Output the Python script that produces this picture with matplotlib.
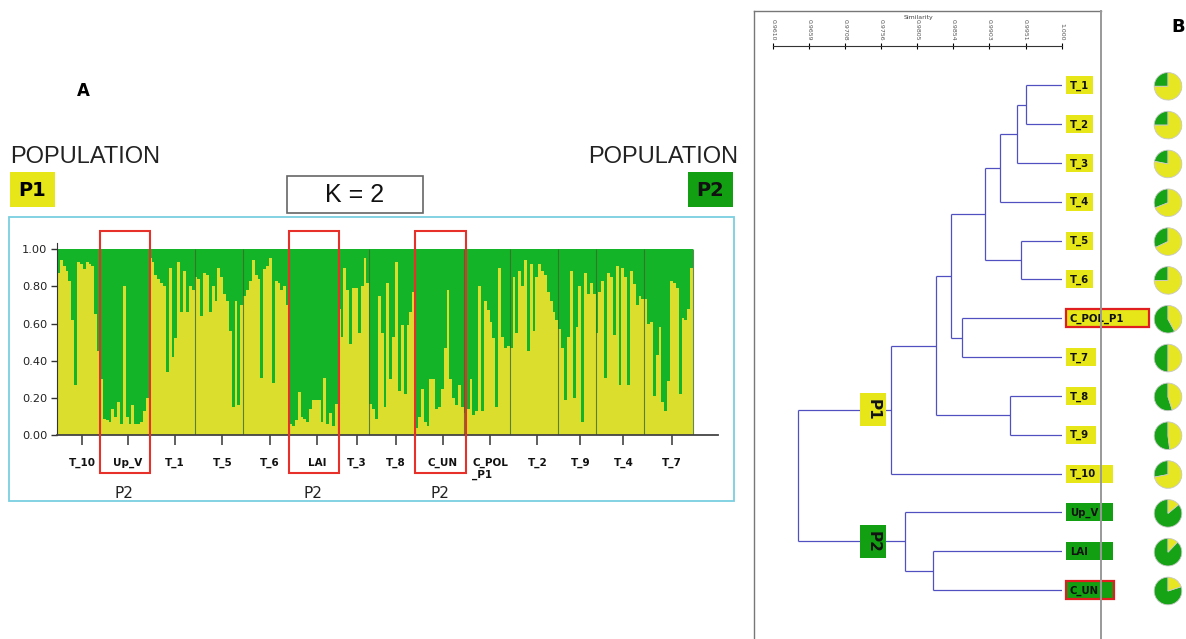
import matplotlib
matplotlib.use('Agg')
import matplotlib.pyplot as plt
from matplotlib.patches import Rectangle
import numpy as np

# ---------------- DATA ----------------
# STRUCTURE (K=2) membership in cluster P1 (yellow) per individual, per population
groups = ['T_10', 'Up_V', 'T_1', 'T_5', 'T_6', 'LAI', 'T_3', 'T_8', 'C_UN',
          'C_POL\n_P1', 'T_2', 'T_9', 'T_4', 'T_7']
q_T10 = [0.87, 0.94, 0.91, 0.88, 0.83, 0.62, 0.27, 0.93, 0.92, 0.89, 0.93, 0.92, 0.91, 0.65, 0.45]
q_UpV = [0.30, 0.09, 0.08, 0.07, 0.14, 0.10, 0.18, 0.06, 0.80, 0.10, 0.06, 0.16, 0.06, 0.06, 0.07, 0.13, 0.20]
q_T1 = [0.95, 0.93, 0.86, 0.84, 0.82, 0.80, 0.34, 0.90, 0.42, 0.52, 0.93, 0.66, 0.88, 0.66, 0.80, 0.78]
q_T5 = [0.85, 0.84, 0.64, 0.87, 0.86, 0.66, 0.80, 0.72, 0.90, 0.85, 0.76, 0.72, 0.56, 0.15, 0.72, 0.16, 0.70]
q_T6 = [0.75, 0.78, 0.83, 0.94, 0.86, 0.84, 0.31, 0.89, 0.91, 0.95, 0.28, 0.83, 0.82, 0.78, 0.80, 0.70]
q_LAI = [0.06, 0.05, 0.08, 0.23, 0.10, 0.09, 0.07, 0.14, 0.19, 0.19, 0.19, 0.07, 0.31, 0.06, 0.12, 0.05, 0.17]
q_T3 = [0.68, 0.53, 0.90, 0.78, 0.49, 0.79, 0.79, 0.55, 0.80, 0.95, 0.82]
q_T8 = [0.17, 0.14, 0.09, 0.75, 0.55, 0.15, 0.82, 0.30, 0.53, 0.93, 0.24, 0.59, 0.22, 0.59, 0.66, 0.77]
q_CUN = [0.04, 0.10, 0.25, 0.07, 0.05, 0.30, 0.30, 0.14, 0.15, 0.25, 0.47, 0.78, 0.30, 0.20, 0.16, 0.27, 0.15]
q_CPOL = [0.12, 0.14, 0.30, 0.11, 0.13, 0.80, 0.13, 0.72, 0.67, 0.61, 0.52, 0.15, 0.90, 0.53, 0.47, 0.48]
q_T2 = [0.47, 0.85, 0.55, 0.88, 0.80, 0.94, 0.45, 0.92, 0.56, 0.85, 0.92, 0.88, 0.86, 0.77, 0.72, 0.66, 0.62]
q_T9 = [0.57, 0.47, 0.19, 0.53, 0.88, 0.20, 0.58, 0.80, 0.07, 0.87, 0.76, 0.82, 0.76]
q_T4 = [0.55, 0.77, 0.83, 0.31, 0.87, 0.85, 0.54, 0.91, 0.27, 0.90, 0.85, 0.27, 0.88, 0.81, 0.70, 0.75, 0.73]
q_T7 = [0.73, 0.60, 0.61, 0.21, 0.43, 0.58, 0.18, 0.13, 0.29, 0.83, 0.82, 0.79, 0.22, 0.63, 0.62, 0.68, 0.90]
group_values = [q_T10, q_UpV, q_T1, q_T5, q_T6, q_LAI, q_T3, q_T8, q_CUN,
                q_CPOL, q_T2, q_T9, q_T4, q_T7]
p2_groups = ['Up_V', 'LAI', 'C_UN']
ytick_vals = [0.0, 0.2, 0.4, 0.6, 0.8, 1.0]

# Dendrogram (UPGMA on similarity)
leaves = ['T_1', 'T_2', 'T_3', 'T_4', 'T_5', 'T_6', 'C_POL_P1', 'T_7',
          'T_8', 'T_9', 'T_10', 'Up_V', 'LAI', 'C_UN']
# merges: (child a, child b, similarity); new clusters numbered from 14
merges = [(0, 1, 0.99514), (14, 2, 0.99397), (15, 3, 0.99163), (4, 5, 0.99447),
          (16, 17, 0.98965), (6, 7, 0.98659), (18, 19, 0.98510), (8, 9, 0.99306),
          (20, 21, 0.98297), (22, 10, 0.97692), (12, 13, 0.98263), (11, 24, 0.97889),
          (23, 25, 0.96437)]
sim_ticks = [0.9610, 0.96588, 0.97075, 0.97563, 0.9805, 0.98538, 0.99025, 0.99513, 1.0]
sim_labels = ['0.9610', '0.9659', '0.9708', '0.9756', '0.9805', '0.9854', '0.9903', '0.9951', '1.000']
# share of cluster P2 (green) in each population, for the pies
pie_p2 = [0.25, 0.25, 0.22, 0.31, 0.32, 0.25, 0.58, 0.50, 0.55, 0.52, 0.28, 0.86, 0.88, 0.80]
leaf_group = ['P1'] * 11 + ['P2'] * 3
highlight = ['C_POL_P1', 'C_UN']

# ---------------- STYLE ----------------
YEL = '#dcde2e'
GRN = '#14b428'
BOXY = '#e6e619'
BOXG = '#12a012'
LINE = '#5050c0'
W, H = 1186, 639

fig = plt.figure(figsize=(W / 100, H / 100), dpi=100)
ov = fig.add_axes([0, 0, 1, 1], zorder=0)
ov.set_xlim(0, W)
ov.set_ylim(H, 0)
ov.axis('off')

# ---------------- PANEL A ----------------
counts = [len(v) for v in group_values]
N = sum(counts)
starts = np.concatenate([[0], np.cumsum(counts)[:-1]])
bx = fig.add_axes([57 / W, (H - 435.3) / H, (718 - 57) / W, 186.3 * 1.03 / H], zorder=2)
bx.patch.set_alpha(0)
bx.bar(starts, np.ones(len(counts)), width=counts, align='edge', color=GRN, linewidth=0)
for s, vals in zip(starts, group_values):
    xs = s + np.arange(len(vals))
    bx.bar(xs, vals, width=1.0, align='edge', color=YEL, linewidth=0)
bx.vlines(list(starts[1:]) + [N], 0, 1, color='#3a6a2a', lw=0.8, alpha=0.8)
bx.set_xlim(0, N * 661 / 636)
bx.set_ylim(0, 1.03)
for sp in ['top', 'right']:
    bx.spines[sp].set_visible(False)
bx.spines['left'].set_color('#333')
bx.spines['bottom'].set_color('#444')
bx.spines['bottom'].set_linewidth(1.3)
bx.set_yticks(ytick_vals)
bx.set_yticklabels([f'{v:.2f}' for v in ytick_vals], fontsize=8.2, color='#222')
centers = starts + np.array(counts) / 2 + 1.2
bx.set_xticks(centers)
bx.set_xticklabels(groups, fontsize=7.5, fontweight='bold', color='#111')
for lab in bx.get_xticklabels():
    lab.set_multialignment('left')
bx.tick_params(axis='x', direction='out', length=7, width=1.2, color='#444', pad=9)
bx.tick_params(axis='y', direction='out', length=4, width=1, color='#333', pad=3)

for g, s, n in zip(groups, starts, counts):
    if g in p2_groups:
        bx.add_patch(Rectangle((s, -0.204), n + 0.6, 1.3006, fill=False, ec='#e8302a',
                               lw=1.5, clip_on=False, zorder=5))
        bx.text(s + n / 2, -0.31, 'P2', ha='center', va='center', fontsize=11,
                color='#222', clip_on=False)

ov.add_patch(Rectangle((9, 217), 725, 284, fill=False, ec='#78cfe0', lw=1.3))
ov.text(83, 91, 'A', fontsize=12, fontweight='bold', ha='center', va='center')
ov.text(10, 163, 'POPULATION', fontsize=17, family='Liberation Sans', va='baseline', ha='left', color='#222')
ov.text(738, 163, 'POPULATION', fontsize=17, family='Liberation Sans', va='baseline', ha='right', color='#222')
ov.add_patch(Rectangle((10, 172), 45, 35, fc=BOXY, ec='none'))
ov.text(32.5, 190, 'P1', fontsize=14, fontweight='bold', ha='center', va='center')
ov.add_patch(Rectangle((688, 172), 45, 35, fc=BOXG, ec='none'))
ov.text(710.5, 190, 'P2', fontsize=14, fontweight='bold', ha='center', va='center', color='#111')
ov.add_patch(Rectangle((287, 176), 136, 37, fc='white', ec='#666', lw=1.2))
ov.text(355, 195, 'K = 2', fontsize=18, family='Liberation Sans', ha='center', va='center', color='#111')

# ---------------- PANEL B ----------------
step = (590 - 85.3) / 13
y_top = -(85.3 - 46) / step
y_bot = 13 + (628.8 - 590) / step
dx = fig.add_axes([772.7 / W, (H - 628.8) / H, 289 / W, 582.8 / H], zorder=2)
dx.patch.set_alpha(0)
dx.set_xlim(sim_ticks[0], 1.0)
dx.set_ylim(y_bot, y_top)
for sp in ['left', 'right', 'bottom']:
    dx.spines[sp].set_visible(False)
dx.spines['top'].set_color('#333')
dx.set_yticks([])
dx.xaxis.tick_top()
dx.set_xticks(sim_ticks)
dx.set_xticklabels(sim_labels, rotation=-90, fontsize=4.5, color='#555')
dx.tick_params(axis='x', direction='inout', length=4, width=0.8, pad=2)

pos = {i: (1.0, float(i)) for i in range(len(leaves))}
nid = len(leaves)
for a, b, h in merges:
    xa, ya = pos[a]
    xb, yb = pos[b]
    dx.plot([xa, h], [ya, ya], color=LINE, lw=0.9, solid_capstyle='butt')
    dx.plot([xb, h], [yb, yb], color=LINE, lw=0.9, solid_capstyle='butt')
    dx.plot([h, h], [ya, yb], color=LINE, lw=0.9, solid_capstyle='butt')
    pos[nid] = (h, (ya + yb) / 2)
    nid += 1

# P1 / P2 boxes on the two main branches
xlab = sim_ticks[0] + (872.8 - 772.7) / 289 * (1.0 - sim_ticks[0])
for cid, name, fc in [(23, 'P1', BOXY), (25, 'P2', BOXG)]:
    yy = pos[cid][1]
    dx.text(xlab, yy, name, rotation=-90, ha='center', va='center', fontsize=11,
            fontweight='bold', color='#111', zorder=5, clip_on=False,
            bbox=dict(boxstyle='square,pad=0.35', fc=fc, ec='none'))

# frame
ov.plot([754, 754], [11, 639], color='#777', lw=1.0)
ov.plot([754, 1101], [11, 11], color='#777', lw=1.0)
ov.text(918, 18, 'Similarity', fontsize=4.5, ha='center', va='center', color='#444')
ov.text(1178, 27, 'B', fontsize=13, fontweight='bold', ha='center', va='center')

box_w = {'T_1': 27, 'T_2': 27, 'T_3': 27, 'T_4': 27, 'T_5': 27, 'T_6': 27,
         'C_POL_P1': 83, 'T_7': 30, 'T_8': 30, 'T_9': 30, 'T_10': 47,
         'Up_V': 47, 'LAI': 47, 'C_UN': 48}
for i, name in enumerate(leaves):
    disp = dx.transData.transform((1.0, i))
    ypx = H - disp[1]
    fc = BOXY if leaf_group[i] == 'P1' else BOXG
    ec = '#e02020' if name in highlight else 'none'
    ov.add_patch(Rectangle((1065.5, ypx - 9), box_w[name], 18, fc=fc, ec=ec, lw=1.6, zorder=3))
    ov.text(1070, ypx + 0.5, name, fontsize=7.3, fontweight='bold', ha='left', va='center',
            color='#111', zorder=4)
    r = 14.5
    pa = fig.add_axes([(1168 - r) / W, (H - (ypx + 1 + r)) / H, 2 * r / W, 2 * r / H], zorder=3)
    pa.pie([pie_p2[i], 1 - pie_p2[i]], colors=['#16a416', '#e6e622'], startangle=90,
           counterclock=True, wedgeprops=dict(linewidth=0.6, edgecolor='#c8c8c8'))
    pa.set_aspect('equal')
    pa.set_xlim(-1.05, 1.05)
    pa.set_ylim(-1.05, 1.05)
    pa.axis('off')

ov.plot([1101, 1101], [11, 639], color='#999', lw=1.4, zorder=6)

fig.savefig('out.png', dpi=100)
